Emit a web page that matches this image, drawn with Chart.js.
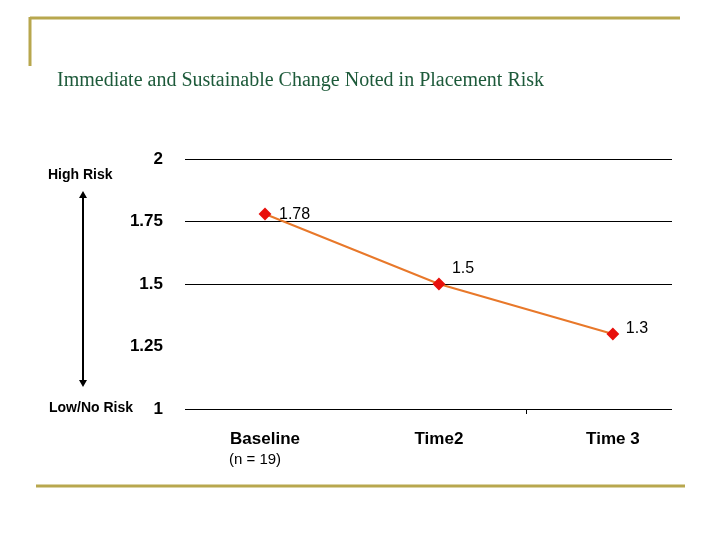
<!DOCTYPE html>
<html>
<head>
<meta charset="utf-8">
<script src="https://cdn.jsdelivr.net/npm/chart.js@4"></script>
<style>
  html, body { margin: 0; padding: 0; background: #fff; }
  #wrap { width: 720px; height: 540px; }
</style>
</head>
<body>
<div id="wrap"><canvas id="riskChart" width="720" height="540"></canvas></div>
<script>
const categories = ["Baseline", "Time2", "Time 3"];
const riskScores = [1.78, 1.5, 1.3];
const yTicks = [1, 1.25, 1.5, 1.75, 2];

const gold = "#b8a74e";

// frame lines, title, side arrow and the "(n = 19)" note
const slideDecor = {
  id: "slideDecor",
  afterDraw(chart) {
    const c = chart.ctx;
    c.save();
    c.strokeStyle = gold;
    c.lineWidth = 3;
    c.beginPath();
    c.moveTo(30, 18); c.lineTo(680, 18);
    c.moveTo(30, 17); c.lineTo(30, 66);
    c.moveTo(36, 486); c.lineTo(685, 486);
    c.stroke();

    c.fillStyle = "#1d5a3a";
    c.font = "20px 'Liberation Serif'";
    c.textBaseline = "middle";
    c.fillText("Immediate and Sustainable Change Noted in Placement Risk", 57, 81);

    c.fillStyle = "#000";
    c.font = "bold 14px 'Liberation Sans'";
    c.fillText("High Risk", 48, 175);
    c.fillText("Low/No Risk", 49, 408);

    // double arrow
    c.strokeStyle = "#000";
    c.lineWidth = 2;
    c.beginPath();
    c.moveTo(83, 196); c.lineTo(83, 382);
    c.stroke();
    c.beginPath();
    c.moveTo(83, 191); c.lineTo(79, 198); c.lineTo(87, 198); c.closePath();
    c.moveTo(83, 387); c.lineTo(79, 380); c.lineTo(87, 380); c.closePath();
    c.fill();

    // small tick on the base line
    const x = chart.scales.x, y = chart.scales.y;
    c.lineWidth = 1;
    c.beginPath();
    const tx = Math.round(x.getPixelForValue(1.5)) + 0.5;
    c.moveTo(tx, y.getPixelForValue(1)); c.lineTo(tx, y.getPixelForValue(1) + 5);
    c.stroke();

    c.font = "15px 'Liberation Sans'";
    c.textAlign = "left";
    const bx = x.getPixelForValue(0);
    c.fillText("(n = 19)", bx - 36, 460);

    // point value labels
    const meta = chart.getDatasetMeta(0);
    const shifts = [[14, 1], [13, -15], [13, -5]];
    c.font = "16px 'Liberation Sans'";
    meta.data.forEach((pt, i) => {
      c.fillText(String(riskScores[i]), pt.x + shifts[i][0], pt.y + shifts[i][1]);
    });
    c.restore();
  }
};

new Chart(document.getElementById("riskChart"), {
  type: "line",
  data: {
    datasets: [
      {
        data: riskScores.map((v, i) => ({ x: i, y: v })),
        borderColor: "#e8782a",
        borderWidth: 2,
        pointStyle: "rectRot",
        pointRadius: 5,
        pointBackgroundColor: "#e8100c",
        pointBorderColor: "#e8100c",
        tension: 0,
      },
    ],
  },
  options: {
    responsive: false,
    animation: false,
    devicePixelRatio: 1,
    layout: { padding: { top: 159, right: 48, left: 0, bottom: 0 } },
    plugins: { legend: { display: false }, tooltip: { enabled: false } },
    scales: {
      x: {
        type: "linear",
        min: -0.46,
        max: 2.34,
        afterBuildTicks: (s) => { s.ticks = categories.map((_, i) => ({ value: i })); },
        afterFit: (s) => { s.height = 131; },
        grid: { display: false },
        border: { display: false },
        ticks: {
          padding: 12,
          color: "#000",
          font: { family: "Liberation Sans", size: 17, weight: "bold" },
          callback: (v) => categories[v],
        },
      },
      y: {
        min: 1,
        max: 2,
        afterBuildTicks: (s) => { s.ticks = yTicks.map((v) => ({ value: v })); },
        afterFit: (s) => { s.width = 185; },
        border: { display: false },
        grid: {
          drawTicks: false,
          color: (ctx) => (ctx.tick && ctx.tick.value === 1.25 ? "rgba(0,0,0,0)" : "#000"),
          lineWidth: 1,
        },
        ticks: {
          padding: 22,
          color: "#000",
          font: { family: "Liberation Sans", size: 17, weight: "bold" },
          callback: (v) => String(v),
        },
      },
    },
  },
  plugins: [slideDecor],
});
</script>
</body>
</html>
